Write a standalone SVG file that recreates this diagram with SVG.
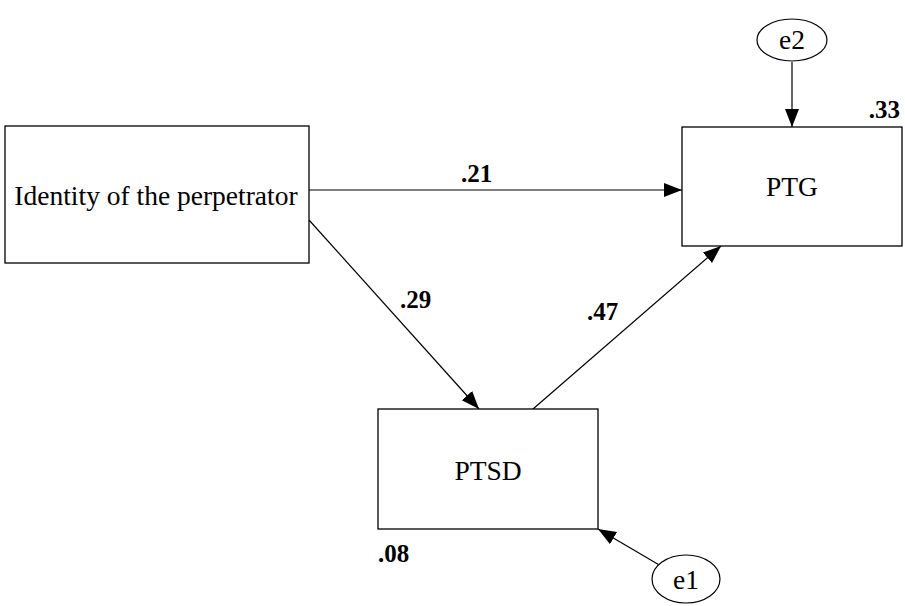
<svg xmlns="http://www.w3.org/2000/svg" width="905" height="606" viewBox="0 0 905 606">
<style>
.box{fill:#fff;stroke:#000;stroke-width:1.3}
.ell{fill:#fff;stroke:#000;stroke-width:1.2}
text{font-family:'Liberation Serif','DejaVu Serif','Times New Roman',Times,serif;fill:#000}
.lbl{font-size:27.5px}
.num{font-size:25px;font-weight:bold}
.edge{stroke:#000;stroke-width:1.2;fill:none;marker-end:url(#ah)}
</style>
<defs>
<marker id="ah" markerUnits="userSpaceOnUse" markerWidth="20" markerHeight="16" refX="18" refY="7" orient="auto">
<path d="M0,0 L18,7 L0,14 Z" fill="#000"/>
</marker>
</defs>
<rect width="905" height="606" fill="#fff"/>
<g id="connectors">
<line class="edge" x1="309" y1="190" x2="682" y2="190"/>
<line class="edge" x1="309" y1="220" x2="479" y2="409"/>
<line class="edge" x1="533" y1="409" x2="721" y2="246"/>
<line class="edge" x1="792" y1="62" x2="792" y2="127"/>
<line class="edge" x1="661" y1="566" x2="598" y2="529"/>
</g>
<g id="identity">
<rect class="box" x="5" y="126" width="304" height="137"/>
<text class="lbl" x="156" y="205" text-anchor="middle">Identity of the perpetrator</text>
</g>
<g id="ptg">
<rect class="box" x="682" y="127" width="220" height="119"/>
<text class="lbl" x="792" y="196" text-anchor="middle">PTG</text>
<text class="num" x="900" y="118" text-anchor="end">.33</text>
</g>
<g id="ptsd">
<rect class="box" x="378" y="409" width="220" height="120"/>
<text class="lbl" x="488" y="480" text-anchor="middle">PTSD</text>
<text class="num" x="378" y="562">.08</text>
</g>
<g id="e2">
<ellipse class="ell" cx="792" cy="40" rx="35" ry="21"/>
<text class="lbl" x="792" y="49" text-anchor="middle">e2</text>
</g>
<g id="e1">
<ellipse class="ell" cx="686" cy="579" rx="34" ry="24"/>
<text class="lbl" x="686" y="589" text-anchor="middle">e1</text>
</g>
<g id="labels">
<text class="num" x="461" y="182">.21</text>
<text class="num" x="400" y="308">.29</text>
<text class="num" x="587" y="320">.47</text>
</g>
</svg>
